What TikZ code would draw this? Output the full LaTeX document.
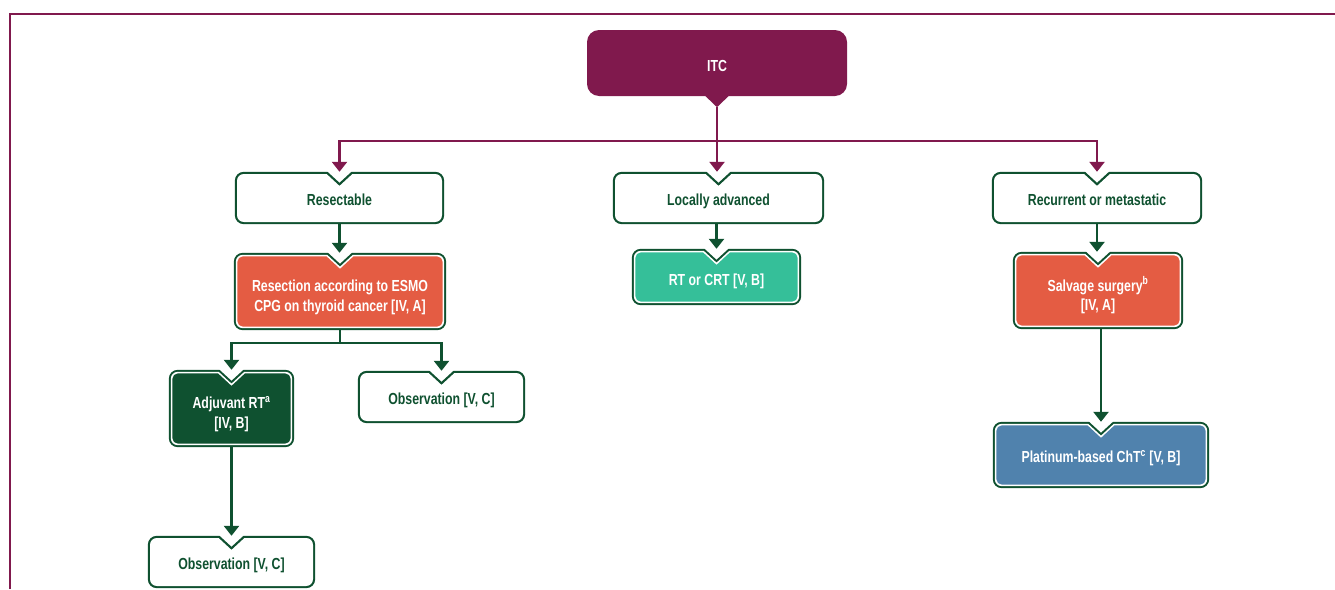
\documentclass[tikz,border=0pt]{standalone}
\usepackage{fontspec}
\setmainfont{Liberation Sans}[FakeStretch=0.77]
\usetikzlibrary{arrows.meta,calc,backgrounds}
\definecolor{itcred}{HTML}{80194D}
\definecolor{dkgreen}{HTML}{0F5130}
\definecolor{orangec}{HTML}{E45C43}
\definecolor{tealc}{HTML}{35BF99}
\definecolor{bluec}{HTML}{5082AD}
% notched rounded box outline: #1 node, #2 inset, #3 outer radius, #4 this radius, #5 options
\newcommand\nshape[5]{%
 \path[#5] let \p1=(#1.north west), \p2=(#1.south east), \p3=(#1.north) in
  ({\x1+#3pt},{\y1-#2pt}) -- ({\x3-12pt-0.414*#2pt},{\y1-#2pt}) -- (\x3,{\y1-11pt-1.414*#2pt})
  -- ({\x3+12pt+0.414*#2pt},{\y1-#2pt}) -- ({\x2-#3pt},{\y1-#2pt})
  arc[start angle=90,end angle=0,radius=#4pt] -- ({\x2-#2pt},{\y2+#3pt})
  arc[start angle=0,end angle=-90,radius=#4pt] -- ({\x1+#3pt},{\y2+#2pt})
  arc[start angle=270,end angle=180,radius=#4pt] -- ({\x1+#2pt},{\y1-#3pt})
  arc[start angle=180,end angle=90,radius=#4pt] -- cycle;}
\newcommand\plainbox[1]{\nshape{#1}{0}{9}{9}{fill=dkgreen}\nshape{#1}{2.2}{9}{6.8}{fill=white}}
\newcommand\solidbox[2]{\nshape{#1}{0}{9}{9}{fill=dkgreen}\nshape{#1}{2}{9}{7}{fill=white}\nshape{#1}{3.6}{9}{5.4}{fill=#2}}
% text lowered by #1 pt inside its box
\newcommand\tx[2]{\raisebox{-#1pt}[\height][\depth]{\begin{tabular}{@{}c@{}}#2\end{tabular}}}
\tikzset{
 txt/.style={inner sep=0pt, align=center, font=\bfseries\fontsize{16}{19.5}\selectfont, text=dkgreen},
 wtxt/.style={txt, text=white},
 garrow/.style={draw=dkgreen, line width=2.5pt, -{Triangle[width=15pt,length=10pt]}},
 marrow/.style={draw=itcred, line width=2.5pt, -{Triangle[width=15pt,length=10pt]}},
}
\begin{document}
\begin{tikzpicture}[x=1pt,y=-1pt]
\useasboundingbox (0,0) rectangle (1335,589);
\draw[itcred, line width=2.2pt] (10,589) -- (10,14) -- (1335,14);
% top node
\node[wtxt, minimum width=260pt, minimum height=66pt,
      fill=itcred, rounded corners=12pt] (itc) at (717,63) {\tx{5}{ITC}};
\fill[itcred] ($(itc.south)+(-12.5,-1)$) -- ($(itc.south)+(0,11)$) -- ($(itc.south)+(12.5,-1)$) -- cycle;
\coordinate (itctip) at ($(itc.south)+(0,11)$);
% boxes
\node[txt, minimum width=209pt, minimum height=52pt] (res) at (339.5,198) {\tx{4}{Resectable}};
\node[txt, minimum width=211pt, minimum height=52pt] (loc) at (718.5,198) {\tx{4}{Locally advanced}};
\node[txt, minimum width=210pt, minimum height=52pt] (rec) at (1097,198) {\tx{4}{Recurrent or metastatic}};
\node[wtxt, minimum width=212pt, minimum height=77pt] (resect) at (340,291.5)
   {\tx{6}{Resection according to ESMO\\CPG on thyroid cancer [IV, A]}};
\node[wtxt, minimum width=169pt, minimum height=56pt] (rt) at (716.5,277) {\tx{5}{RT or CRT [V, B]}};
\node[wtxt, minimum width=170pt, minimum height=77pt] (salv) at (1098,290.5)
   {\tx{6}{Salvage surgery\textsuperscript{b}\\{[IV, A]}}};
\node[wtxt, minimum width=125pt, minimum height=77pt] (adj) at (231.5,408.5)
   {\tx{6}{Adjuvant RT\textsuperscript{a}\\{[IV, B]}}};
\node[txt, minimum width=167pt, minimum height=52pt] (obsr) at (441.5,397) {\tx{3.5}{Observation [V, C]}};
\node[txt, minimum width=167pt, minimum height=52pt] (obsb) at (231.5,562) {\tx{3.5}{Observation [V, C]}};
\node[wtxt, minimum width=216pt, minimum height=66pt] (plat) at (1101,455)
   {\tx{4}{Platinum-based ChT\textsuperscript{c} [V, B]}};
\begin{scope}[on background layer]
 \plainbox{res}\plainbox{loc}\plainbox{rec}\plainbox{obsr}\plainbox{obsb}
 \solidbox{resect}{orangec}\solidbox{rt}{tealc}\solidbox{salv}{orangec}
 \solidbox{adj}{dkgreen}\solidbox{plat}{bluec}
\end{scope}
% connectors
\draw[marrow] (itctip) -- ++(0,34) -| (res.north);
\draw[marrow] (itctip) -- ++(0,34) -| (rec.north);
\draw[marrow] (itctip) -- (itctip |- loc.north);
\draw[garrow] (res.south) -- (res.south |- resect.north);
\draw[garrow] (rt.north |- loc.south) -- (rt.north);
\draw[garrow] (rec.south) -- (rec.south |- salv.north);
\draw[garrow] (resect.south) -- ++(0,13) -| (adj.north);
\draw[garrow] (resect.south) -- ++(0,13) -| (obsr.north);
\draw[garrow] (adj.south) -- (obsb.north);
\draw[garrow] (plat.north |- salv.south) -- (plat.north);
\end{tikzpicture}
\end{document}
